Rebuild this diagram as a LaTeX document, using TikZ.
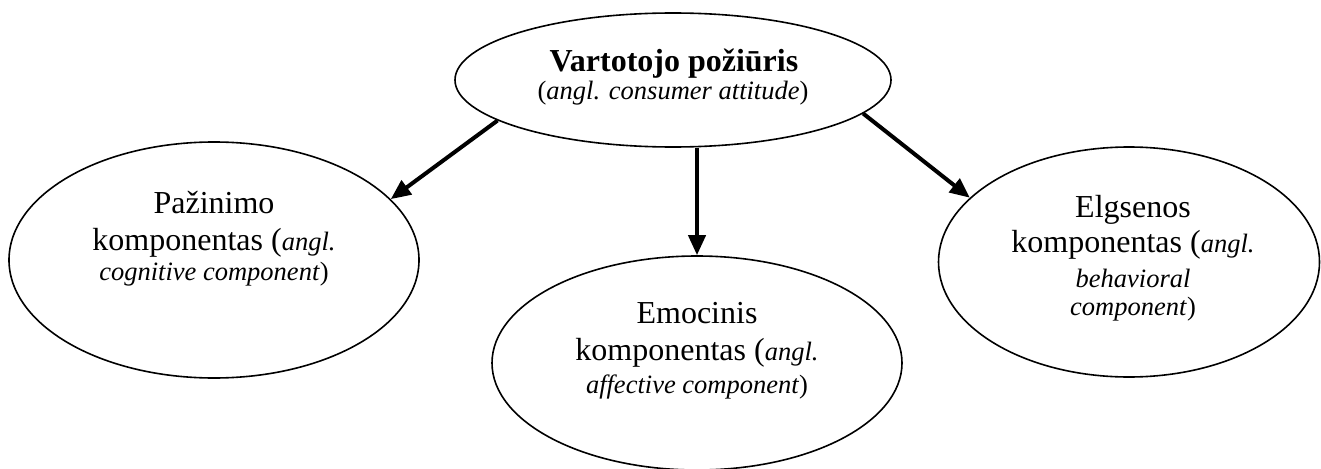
\documentclass[tikz,border=0pt]{standalone}
\usepackage{fontspec}
\setmainfont{Liberation Serif}
\usetikzlibrary{shapes.geometric,arrows.meta}
\newcommand{\smit}{\fontsize{26.5}{30}\selectfont\itshape}
\begin{document}
\begin{tikzpicture}[x=1pt,y=-1pt,
  oval/.style={ellipse,draw,line width=1.6pt,inner sep=0pt},
  rm/.style={font=\fontsize{32}{37}\selectfont,inner sep=0pt,anchor=base},
  sm/.style={font=\fontsize{26.5}{30}\selectfont,inner sep=0pt,anchor=base},
  conn/.style={line width=4pt,-{Triangle[length=20pt,width=17pt]}}]
\useasboundingbox (0,0) rectangle (1321,468);
% ellipses
\node[oval,minimum width=436pt,minimum height=134pt] (top) at (673,80) {};
\node[oval,minimum width=410pt,minimum height=236pt] (left) at (214,260) {};
\node[oval,minimum width=410pt,minimum height=214pt] (mid) at (697,363) {};
\node[oval,minimum width=381pt,minimum height=230pt] (right) at (1129,262) {};
% top text
\node[rm] (t1) at (674,72) {\textbf{Vartotojo požiūris}};
\node[sm] (t2) at (673,100) {(\textit{angl. consumer attitude})};
% left text
\node[rm] (l1) at (214,213) {Pažinimo};
\node[rm] (l2) at (214,250) {komponentas ({\smit angl.}};
\node[sm] (l3) at (214,280) {\textit{cognitive component})};
% middle text
\node[rm] (m1) at (697,323) {Emocinis};
\node[rm] (m2) at (697,360) {komponentas ({\smit angl.}};
\node[sm] (m3) at (697,393) {\textit{affective component})};
% right text
\node[rm] (r1) at (1133,217) {Elgsenos};
\node[rm] (r2) at (1133,252) {komponentas ({\smit angl.}};
\node[sm] (r3) at (1133,287) {\textit{behavioral}};
\node[sm] (r4) at (1133,315) {\textit{component})};
% arrows
\draw[conn] (top.193.4) -- (left.19.2);
\draw[conn] (top.south -| mid.north) -- (mid.north);
\draw[conn] (top.350.2) -- (right.158.3);
\end{tikzpicture}
\end{document}
